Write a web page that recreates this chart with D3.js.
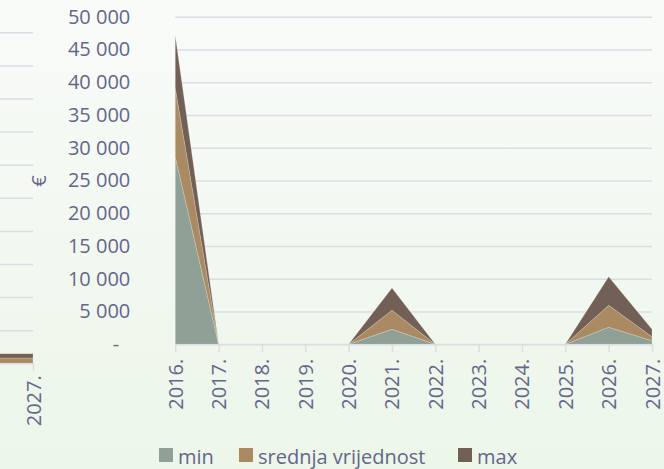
<!DOCTYPE html>
<html>
<head>
<meta charset="utf-8">
<script src="https://cdn.jsdelivr.net/npm/d3@7"></script>
<style>
  html, body { margin: 0; padding: 0; }
  svg { display: block; }
  text { font-family: "Open Sans", sans-serif; }
</style>
</head>
<body>
<svg id="chart" width="664" height="469"></svg>
<script>
// ---- data ----
const years = ["2016.", "2017.", "2018.", "2019.", "2020.", "2021.", "2022.", "2023.", "2024.", "2025.", "2026.", "2027."];
const minValues = [28600, 0, 0, 0, 0, 2300, 0, 0, 0, 0, 2600, 550];
const srednjaValues = [10500, 0, 0, 0, 0, 2900, 0, 0, 0, 0, 3350, 600];
const maxValues = [8000, 0, 0, 0, 0, 3400, 0, 0, 0, 0, 4350, 1150];
const seriesNames = ["min", "srednja vrijednost", "max"];
const yTicks = [0, 5000, 10000, 15000, 20000, 25000, 30000, 35000, 40000, 45000, 50000];
const yAxisTitle = "€";

// partially visible neighbouring chart (only its last years show at the left edge)
const ghostYears = ["2026.", "2027."];
const ghostMin = [0, 0];
const ghostSrednja = [800, 800];
const ghostMax = [650, 650];

// ---- styles ----
const colors = ["#8fa196", "#aa8a62", "#725f55"];
const textColor = "#64668a";
const gridColor = "#dcdce4";
const fontSize = 20;

const svg = d3.select("#chart");
const W = 664, H = 469;

// background gradient
const defs = svg.append("defs");
const grad = defs.append("linearGradient").attr("id", "bg").attr("x1", 0).attr("y1", 0).attr("x2", 0).attr("y2", 1);
grad.append("stop").attr("offset", "0%").attr("stop-color", "#f9fbf9");
grad.append("stop").attr("offset", "100%").attr("stop-color", "#ecf6e9");
svg.append("rect").attr("width", W).attr("height", H).attr("fill", "url(#bg)");

function drawChart(g, cats, mins, meds, maxs, xRange, yRange, gridLeft, labelOffset, showYLabels, labelCats) {
  const x = d3.scalePoint().domain(cats).range(xRange);
  const y = d3.scaleLinear().domain([0, 50000]).range(yRange);
  const rows = cats.map((c, i) => ({ cat: c, min: mins[i], med: meds[i], max: maxs[i] }));
  const stack = d3.stack().keys(["min", "med", "max"]);
  const layers = stack(rows);

  // gridlines
  const gridAxis = d3.axisLeft(y).tickValues(yTicks.filter(v => v > 0))
    .tickSize(-(xRange[1] - gridLeft)).tickFormat("");
  const gg = g.append("g").attr("transform", `translate(${gridLeft},0)`).call(gridAxis);
  gg.select(".domain").remove();
  gg.selectAll("line").attr("stroke", gridColor).attr("stroke-width", 1.5);

  // areas
  const area = d3.area()
    .x(d => x(d.data.cat))
    .y0(d => y(d[0]))
    .y1(d => y(d[1]));
  g.selectAll("path.layer").data(layers).enter().append("path")
    .attr("class", "layer")
    .attr("d", area)
    .attr("fill", (d, i) => colors[i])
    .attr("stroke", "#f3efe6")
    .attr("stroke-width", 0.4)
    .attr("stroke-opacity", 0.6);

  // x axis
  const xAxis = d3.axisBottom(x).tickValues(labelCats || cats).tickSize(8).tickSizeOuter(0);
  const xg = g.append("g").attr("transform", `translate(0,${yRange[0]})`).call(xAxis);
  xg.select(".domain").attr("stroke", gridColor).attr("stroke-width", 1.5)
    .attr("d", `M${gridLeft},0.5H${xRange[1]}`);
  xg.selectAll(".tick line").attr("stroke", gridColor).attr("stroke-width", 1.5);
  xg.selectAll(".tick text")
    .attr("fill", textColor)
    .attr("font-size", fontSize)
    .attr("transform", "rotate(-90)")
    .attr("text-anchor", "end")
    .attr("x", -labelOffset)
    .attr("y", 0)
    .attr("dy", "0.35em");

  if (showYLabels) {
    const yAxis = d3.axisLeft(y).tickValues(yTicks).tickSize(0).tickPadding(45)
      .tickFormat(v => v === 0 ? "-" : d3.format(",")(v).replace(/,/g, " "));
    const yg = g.append("g").attr("transform", `translate(${xRange[0]},0)`).call(yAxis);
    yg.select(".domain").remove();
    yg.selectAll(".tick text").attr("fill", textColor).attr("font-size", fontSize);
    yg.selectAll(".tick").filter(d => d === 0).select("text").attr("x", -56);
  }
  return { x, y };
}

// ghost chart on the far left (only its last tick is inside the picture)
drawChart(svg.append("g"), ghostYears, ghostMin, ghostSrednja, ghostMax,
  [-11.3, 33], [363.3, 32.3], -50, 12, false, [ghostYears[ghostYears.length - 1]]);

// main chart
drawChart(svg.append("g"), years, minValues, srednjaValues, maxValues,
  [175.3, 652], [344.3, 16.7], 175.3, 14.5, true);

// y axis title
svg.append("text")
  .attr("transform", "translate(46,181) rotate(-90)")
  .attr("text-anchor", "middle")
  .attr("fill", textColor)
  .attr("font-size", fontSize)
  .text(yAxisTitle);

// legend
const legendX = [159, 239, 458];
const lg = svg.append("g");
seriesNames.forEach((name, i) => {
  lg.append("rect").attr("x", legendX[i]).attr("y", 448).attr("width", 14).attr("height", 14).attr("fill", colors[i]);
  lg.append("text").attr("x", legendX[i] + 19).attr("y", 464)
    .attr("fill", textColor).attr("font-size", fontSize).text(name);
});
</script>
</body>
</html>
